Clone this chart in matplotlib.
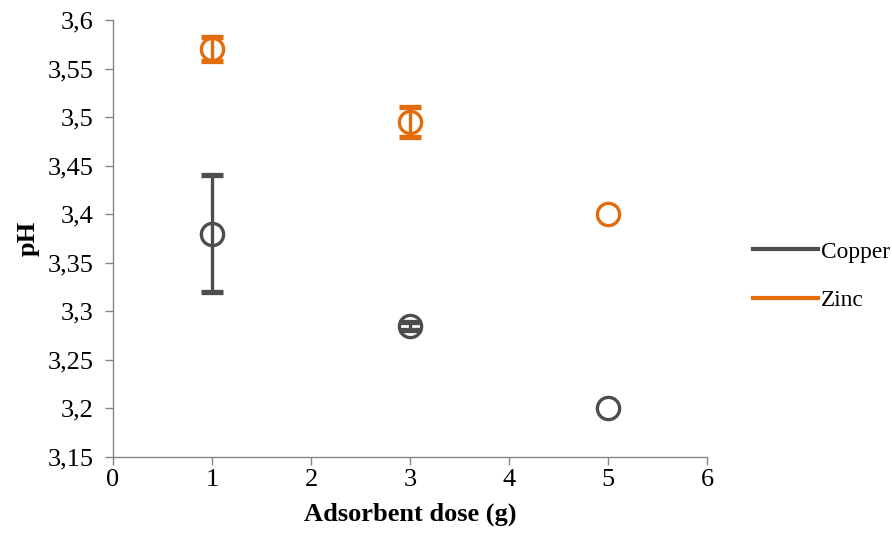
import matplotlib
matplotlib.use("Agg")
import matplotlib.pyplot as plt
from matplotlib.lines import Line2D
from matplotlib.ticker import FuncFormatter, FixedLocator

plt.rcParams['font.family'] = ['Liberation Serif', 'DejaVu Serif']

dose = [1, 3, 5]
copper = [3.38, 3.285, 3.20]
copper_err = [0.06, 0.004, 0.0]
zinc = [3.57, 3.495, 3.40]
zinc_err = [0.012, 0.015, 0.0]
xticks = [0, 1, 2, 3, 4, 5, 6]
yticks = [3.15, 3.2, 3.25, 3.3, 3.35, 3.4, 3.45, 3.5, 3.55, 3.6]

c_cu = '#4D4D4D'
c_zn = '#E46C0A'

fig = plt.figure(figsize=(8.92, 5.46), dpi=100)
ax = fig.add_axes([113/892, 1-457/546, (707-113)/892, (457-20)/546])

for y, e, c in [(copper, copper_err, c_cu), (zinc, zinc_err, c_zn)]:
    xs = [d for d, ee in zip(dose, e) if ee > 0]
    ys = [v for v, ee in zip(y, e) if ee > 0]
    es = [ee for ee in e if ee > 0]
    ax.errorbar(xs, ys, yerr=es, fmt='none', ecolor=c, elinewidth=2.4,
                capsize=8, capthick=3.8, zorder=3)
    ax.plot(dose, y, 'o', markersize=16, markerfacecolor='none',
            markeredgewidth=2.4, markeredgecolor=c, zorder=4)

ax.set_xlim(0, 6)
ax.set_ylim(3.15, 3.6)
ax.xaxis.set_major_locator(FixedLocator(xticks))
ax.yaxis.set_major_locator(FixedLocator(yticks))
fmt = lambda v, p: ('%g' % round(v, 3)).replace('.', ',')
ax.xaxis.set_major_formatter(FuncFormatter(fmt))
ax.yaxis.set_major_formatter(FuncFormatter(fmt))

for s in ['top', 'right']:
    ax.spines[s].set_visible(False)
for s in ['left', 'bottom']:
    ax.spines[s].set_color('#868686')
    ax.spines[s].set_linewidth(1.0)
ax.tick_params(axis='both', direction='out', length=6, width=1.0, color='#868686',
               labelsize=19, labelcolor='black')
ax.tick_params(axis='y', pad=8)
ax.tick_params(axis='x', pad=3)

ax.set_xlabel('Adsorbent dose (g)', fontsize=19, fontweight='bold', labelpad=8)
ax.set_ylabel('pH', fontsize=19, fontweight='bold', labelpad=6)

handles = [Line2D([0], [0], color=c_cu, lw=3), Line2D([0], [0], color=c_zn, lw=3)]
fig.legend(handles, ['Copper', 'Zinc'], loc='center left', bbox_to_anchor=(753/892, 1-276/546),
           frameon=False, fontsize=16.8, handlelength=2.8, handletextpad=0.1, labelspacing=1.15,
           borderaxespad=0, borderpad=0)

fig.savefig('out.png', dpi=100)
